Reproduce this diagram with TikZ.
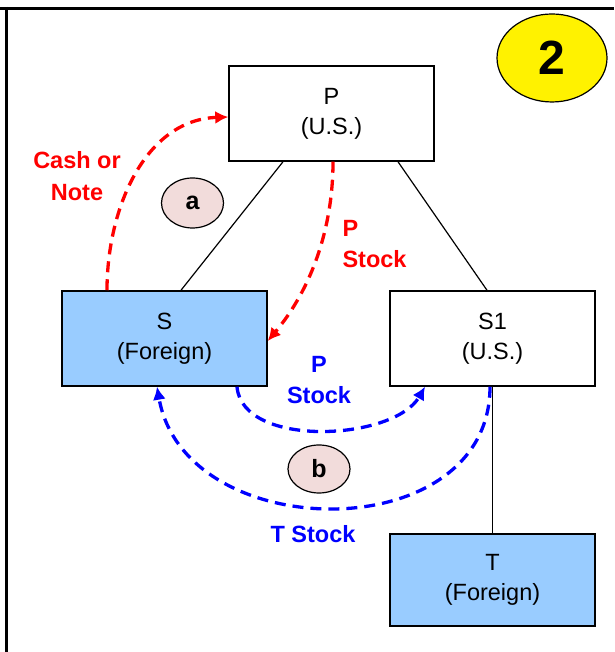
\documentclass[tikz,border=0pt]{standalone}
\usepackage{fontspec}
\setmainfont{Liberation Sans}
\usetikzlibrary{arrows.meta, shapes.geometric}

\definecolor{boxblue}{HTML}{99CCFF}
\definecolor{tagpink}{HTML}{F2DCDB}
\definecolor{flowred}{HTML}{FF0000}
\definecolor{flowblue}{HTML}{0000FF}

\tikzset{
  entity/.style={draw, line width=1.5pt, minimum width=205pt, minimum height=95pt, inner sep=0pt, align=center, font=\fontsize{23.5}{30}\selectfont},
  foreign/.style={entity, fill=boxblue},
  tag/.style={ellipse, draw, line width=1.2pt, fill=tagpink, minimum width=62pt, minimum height=50pt, inner sep=0pt, font=\fontsize{25}{28}\selectfont\bfseries},
  flow/.style={line width=3.3pt, dash pattern=on 11pt off 7pt, -{Latex[length=13pt, width=13pt]}},
  flowtext/.style={align=center, font=\fontsize{23.5}{31.5}\selectfont\bfseries}
}

\begin{document}
\begin{tikzpicture}[x=1pt, y=1pt]
  \useasboundingbox (0, 0) rectangle (614, 652);
  \draw[line width=3.2pt] (0, 643.5) -- (614, 643.5);
  \draw[line width=3.2pt] (6.5, 645) -- (6.5, 0);

  \node[ellipse, draw, line width=1.2pt, fill=yellow, minimum width=110pt, minimum height=88pt, inner sep=0pt, font=\fontsize{48}{50}\selectfont\bfseries] (two) at (552, 594) {2};

  \node[entity] (p) at (331.5, 538.5) {P\\(U.S.)};
  \node[foreign] (s) at (164.5, 313.5) {S\\(Foreign)};
  \node[entity] (s1) at (492.5, 313.5) {S1\\(U.S.)};
  \node[foreign, minimum height=92pt] (t) at (492.5, 72) {T\\(Foreign)};

  \draw[line width=1.2pt] ([xshift=-48.5pt]p.south) -- ([xshift=16.5pt]s.north);
  \draw[line width=1.2pt] ([xshift=66.5pt]p.south) -- ([xshift=-5.5pt]s1.north);
  \draw[line width=1.2pt] (s1.south) -- (t.north);

  \node[tag] (a) at (192.5, 449) {a};
  \node[tag, minimum height=48pt] (b) at (319, 183) {b};

  \draw[flow, flowred] ([xshift=-57.5pt]s.north) to[out=90, in=182, looseness=1] ([yshift=-3.5pt]p.west);
  \draw[flow, flowred] ([xshift=1.5pt]p.south) to[out=-90, in=50, looseness=0.9] ([yshift=-2.5pt]s.east);
  \node[flowtext, text=flowred] (cash) at (77, 476) {Cash or\\Note};
  \node[flowtext, text=flowred, align=left, anchor=west] (pstockred) at (339, 408) {P\\Stock};

  \draw[flow, flowblue] ([xshift=72.5pt]s.south) to[out=-85, in=-120, looseness=0.85] ([xshift=-67.5pt]s1.south);
  \draw[flow, flowblue] ([xshift=-2.5pt]s1.south) to[out=-90, in=-80, looseness=1.25] ([xshift=-7.5pt]s.south);
  \node[flowtext, text=flowblue] (pstockblue) at (319, 272) {P\\Stock};
  \node[flowtext, text=flowblue] (tstock) at (313, 118) {T Stock};
\end{tikzpicture}
\end{document}
